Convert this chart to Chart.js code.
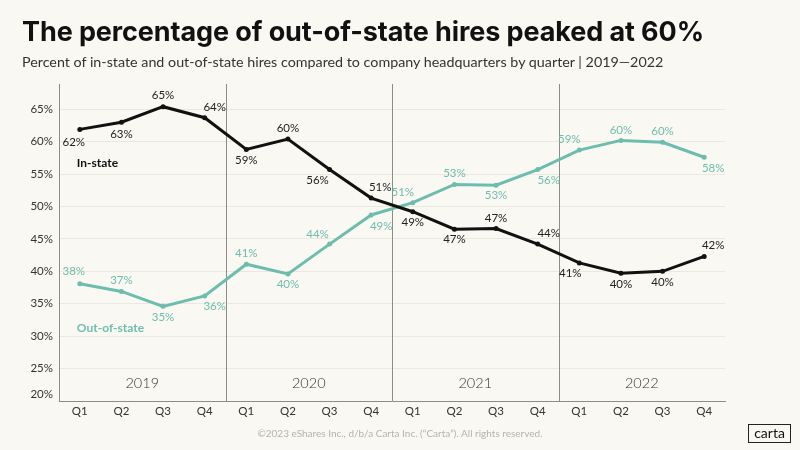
<!DOCTYPE html>
<html>
<head>
<meta charset="utf-8">
<script src="https://cdn.jsdelivr.net/npm/chart.js@4.4.1/dist/chart.umd.min.js"></script>
<style>
  html, body { margin: 0; padding: 0; background: #faf8f3; }
  #wrap { position: relative; width: 800px; height: 450px; overflow: hidden; }
  #title { position: absolute; left: 22px; top: 15px; font-family: Inter, sans-serif; font-weight: 700; font-size: 27px; color: #111; letter-spacing: -0.1px; white-space: nowrap; }
  #subtitle { position: absolute; left: 22px; top: 53px; font-family: Lato, sans-serif; font-size: 14.3px; color: #333; white-space: nowrap; }
  #footer { position: absolute; left: 0; width: 800px; top: 427px; text-align: center; font-family: Lato, sans-serif; font-size: 10px; color: #b3b3b3; }
  #logo { position: absolute; left: 748px; top: 424px; width: 41px; height: 17px; border: 1.5px solid #222; font-family: Lato, sans-serif; font-size: 14px; line-height: 16px; text-align: center; color: #111; }
  canvas { position: absolute; left: 0; top: 0; }
</style>
</head>
<body>
<div id="wrap">
  <canvas id="myChart" width="800" height="450"></canvas>
  <div id="title">The percentage of out-of-state hires peaked at 60%</div>
  <div id="subtitle">Percent of in-state and out-of-state hires compared to company headquarters by quarter | 2019—2022</div>
  <div id="footer">©2023 eShares Inc., d/b/a Carta Inc. (“Carta”). All rights reserved.</div>
  <div id="logo">carta</div>
</div>
<script>
// quarters along the x axis, years grouped under them
var quarters = ["Q1", "Q2", "Q3", "Q4", "Q1", "Q2", "Q3", "Q4", "Q1", "Q2", "Q3", "Q4", "Q1", "Q2", "Q3", "Q4"];
var years = ["2019", "2020", "2021", "2022"];

// percent of hires
var inState = [61.9, 63.0, 65.4, 63.7, 58.8, 60.4, 55.7, 51.3, 49.2, 46.5, 46.6, 44.2, 41.3, 39.7, 40.0, 42.3];
var outOfState = [38.1, 36.9, 34.6, 36.2, 41.1, 39.6, 44.2, 48.7, 50.6, 53.4, 53.3, 55.7, 58.7, 60.2, 59.9, 57.6];

var yTicks = [20, 25, 30, 35, 40, 45, 50, 55, 60, 65];

// where each value label sits relative to its point [dx, dy]
var inStateLabelOffsets = [[-6, 13], [0, 12], [0, -11], [10, -10], [0, 11], [0, -11], [-12, 11], [9, -11],
  [0, 11], [0, 10], [0, -10], [11, -11], [-9, 10], [0, 11], [0, 11], [9, -11]];
var outOfStateLabelOffsets = [[-6, -12], [0, -11], [0, 11], [10, 10], [0, -11], [0, 10], [-12, -10], [10, 11],
  [-10, -10], [0, -11], [0, 10], [11, 11], [-10, -11], [0, -10], [0, -11], [9, 11]];

var BLACK = '#111111';
var TEAL = '#6dbdaf';

var valueLabels = {
  id: 'valueLabels',
  afterDatasetsDraw: function(chart) {
    var ctx = chart.ctx;
    ctx.save();
    ctx.font = '11.5px Lato, sans-serif';
    ctx.textAlign = 'center';
    ctx.textBaseline = 'middle';
    chart.data.datasets.forEach(function(ds, di) {
      var meta = chart.getDatasetMeta(di);
      ctx.fillStyle = ds.labelColor;
      meta.data.forEach(function(pt, i) {
        var off = ds.labelOffsets[i];
        ctx.fillText(Math.round(ds.data[i]) + '%', pt.x + off[0], pt.y + off[1]);
      });
    });
    ctx.restore();
  }
};

var yearDecor = {
  id: 'yearDecor',
  beforeDatasetsDraw: function(chart) {
    var ctx = chart.ctx, x = chart.scales.x, y = chart.scales.y, area = chart.chartArea;
    ctx.save();
    // year dividers
    ctx.strokeStyle = '#8c8c8c';
    ctx.lineWidth = 1;
    for (var k = 1; k < years.length; k++) {
      var bx = Math.round((x.getPixelForValue(k * 4 - 1) + x.getPixelForValue(k * 4)) / 2) + 0.5;
      ctx.beginPath();
      ctx.moveTo(bx, area.top);
      ctx.lineTo(bx, area.bottom);
      ctx.stroke();
    }
    // year names
    ctx.fillStyle = '#333';
    ctx.font = '300 14.5px Lato, sans-serif';
    ctx.textAlign = 'center';
    ctx.textBaseline = 'middle';
    years.forEach(function(yr, k) {
      var cx = (x.getPixelForValue(k * 4 + 1) + x.getPixelForValue(k * 4 + 2)) / 2;
      ctx.fillText(yr, cx, area.bottom - 18);
    });
    // the 20% tick label sits a little above the axis line
    ctx.font = '11.5px Lato, sans-serif';
    ctx.textAlign = 'right';
    ctx.fillStyle = '#333';
    ctx.fillText('20%', area.left - 6, y.getPixelForValue(20) - 7);
    // series names
    ctx.font = 'bold 12px Lato, sans-serif';
    ctx.textAlign = 'left';
    ctx.fillStyle = BLACK;
    ctx.fillText('In-state', x.getPixelForValue(0) - 3, y.getPixelForValue(56.7));
    ctx.fillStyle = TEAL;
    ctx.fillText('Out-of-state', x.getPixelForValue(0) - 3, y.getPixelForValue(31.2));
    ctx.restore();
  }
};

var ctx = document.getElementById("myChart");
var myLineChart = new Chart(ctx, {
  type: 'line',
  data: {
    labels: quarters,
    datasets: [{
      label: 'In-state',
      data: inState,
      borderColor: BLACK,
      backgroundColor: BLACK,
      borderWidth: 3,
      pointRadius: 2.5,
      pointBorderWidth: 0,
      labelColor: '#222',
      labelOffsets: inStateLabelOffsets
    }, {
      label: 'Out-of-state',
      data: outOfState,
      borderColor: TEAL,
      backgroundColor: TEAL,
      borderWidth: 3,
      pointRadius: 2.5,
      pointBorderWidth: 0,
      labelColor: TEAL,
      labelOffsets: outOfStateLabelOffsets
    }]
  },
  options: {
    responsive: false,
    animation: false,
    layout: { padding: { top: 84, right: 75, left: 0, bottom: 0 } },
    plugins: { legend: { display: false }, tooltip: { enabled: false } },
    scales: {
      x: {
        offset: true,
        grid: { display: false, drawTicks: false },
        border: { display: true, color: '#8c8c8c', width: 1 },
        ticks: { color: '#333', font: { family: 'Lato', size: 11.5 }, padding: 3, maxRotation: 0, autoSkip: false },
        afterFit: function(s) { s.height = 49; }
      },
      y: {
        min: 20,
        max: 68.9,
        afterBuildTicks: function(s) { s.ticks = yTicks.map(function(v) { return { value: v }; }); },
        grid: { color: function(c) { return c.tick && c.tick.value === 20 ? 'rgba(0,0,0,0)' : '#ebe8e1'; }, drawTicks: false, lineWidth: 1 },
        border: { display: true, color: '#8c8c8c', width: 1 },
        ticks: {
          color: '#333',
          font: { family: 'Lato', size: 11.5 },
          padding: 6,
          callback: function(v) { return v === 20 ? '' : v + '%'; }
        },
        afterFit: function(s) { s.width = 59; }
      }
    }
  },
  plugins: [yearDecor, valueLabels]
});
</script>
</body>
</html>
